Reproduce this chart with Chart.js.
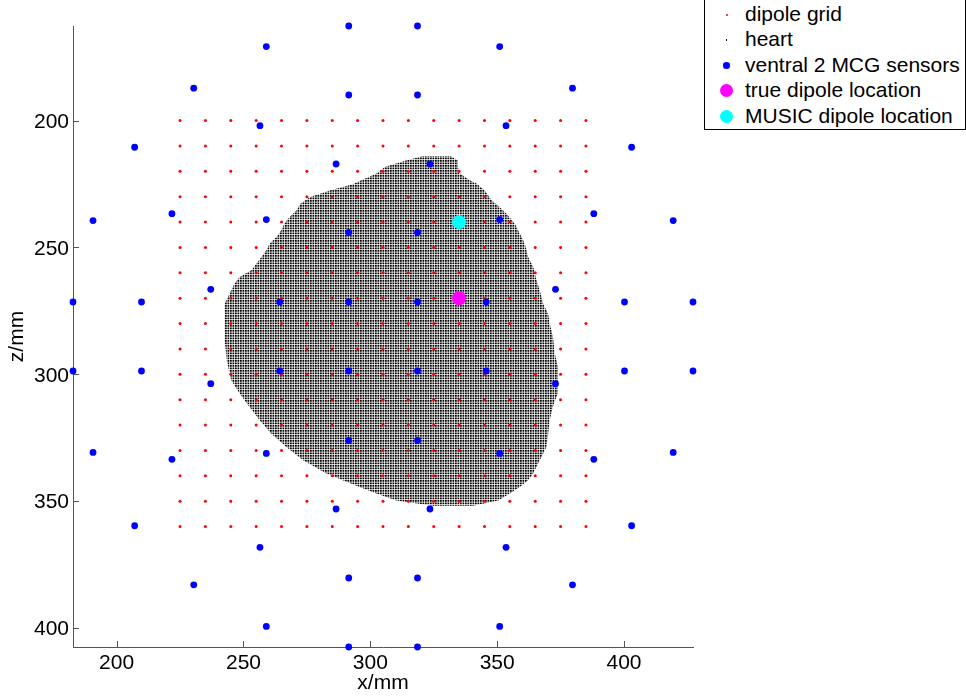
<!DOCTYPE html>
<html>
<head>
<meta charset="utf-8">
<title>dipole localisation</title>
<script src="https://cdn.jsdelivr.net/npm/chart.js"></script>
<style>
  body { margin: 0; background: #fff; }
  #wrap { position: relative; width: 966px; height: 697px; overflow: hidden; }
  #legend { position: absolute; left: 704px; top: -1px; width: 260px; height: 129px;
            border: 1px solid #000; background: #fff;
            font: 21px "Liberation Sans", Arial, Helvetica, sans-serif; color: #000; }
  #legend .row { position: absolute; left: 40px; height: 25.6px; line-height: 25.6px; white-space: nowrap; }
  #legend .mark { position: absolute; }
</style>
</head>
<body>
<div id="wrap">
  <canvas id="plot" width="966" height="697"></canvas>
  <div id="legend"></div>
</div>
<script>
// axis limits (mm) and tick positions
const xRange = [182.8, 427.2];
const zRange = [162.7, 407.5];
const xTicks = [200, 250, 300, 350, 400];
const zTicks = [200, 250, 300, 350, 400];

// dipole source grid, 10 mm spacing
const gridX = [225, 235, 245, 255, 265, 275, 285, 295, 305, 315, 325, 335, 345, 355, 365, 375, 385];
const gridZ = [200, 210, 220, 230, 240, 250, 260, 270, 280, 290, 300, 310, 320, 330, 340, 350, 360];

// ventral MCG sensor positions
const sensorX = [291.5, 318.6, 259.0, 351.0, 230.4, 379.7, 291.5, 318.6, 256.5, 353.5, 207.1, 403.0,
  286.5, 323.5, 221.8, 388.1, 259.0, 351.0, 190.7, 419.4, 291.5, 318.6, 237.1, 373.0,
  182.8, 209.8, 264.3, 291.5, 318.6, 345.7, 400.2, 427.2,
  182.8, 209.8, 264.3, 291.5, 318.6, 345.7, 400.2, 427.2,
  237.1, 373.0, 291.5, 318.6, 190.7, 419.4, 259.0, 351.0, 221.8, 388.1, 286.5, 323.5,
  207.1, 403.0, 256.5, 353.5, 291.5, 318.6, 230.4, 379.7, 259.0, 351.0, 291.5, 318.6];
const sensorZ = [162.7, 162.7, 170.8, 170.8, 187.2, 187.2, 189.9, 189.9, 202.0, 202.0, 210.5, 210.5,
  217.1, 217.1, 236.7, 236.7, 239.0, 239.0, 239.4, 239.4, 244.1, 244.1, 266.5, 266.5,
  271.5, 271.5, 271.5, 271.5, 271.5, 271.5, 271.5, 271.5,
  298.7, 298.7, 298.7, 298.7, 298.7, 298.7, 298.7, 298.7,
  303.7, 303.7, 326.1, 326.1, 330.8, 330.8, 331.2, 331.2, 333.5, 333.5, 353.1, 353.1,
  359.7, 359.7, 368.2, 368.2, 380.3, 380.3, 383.0, 383.0, 399.4, 399.4, 407.5, 407.5];

// heart slice outline
const heartX = [320.5, 314.4, 305.7, 302.4, 296.5, 293.1, 284.0, 276.1, 272.2, 270.9, 268.2, 266.2,
  264.9, 263.0, 260.3, 259.0, 257.1, 255.1, 253.1, 248.5, 246.5, 245.2, 243.9, 242.6,
  242.6, 242.6, 243.4, 245.2, 248.5, 252.4, 256.4, 261.0, 266.9, 273.5, 282.7, 289.2,
  295.8, 302.4, 310.3, 324.7, 340.5, 350.4, 355.0, 358.9, 362.2, 364.2, 366.8, 369.4,
  370.1, 370.7, 371.9, 373.9, 374.0, 374.0, 372.7, 372.0, 370.7, 370.1, 368.1, 366.8,
  365.5, 364.2, 362.2, 360.9, 358.9, 356.9, 353.7, 351.0, 347.8, 345.1, 341.8, 339.2,
  335.3, 334.5, 334.5, 331.7, 320.5];
const heartZ = [214.0, 215.6, 218.3, 220.8, 223.5, 225.1, 227.5, 230.2, 233.0, 235.4, 238.0, 240.6,
  243.2, 245.9, 248.5, 251.1, 253.8, 256.4, 259.0, 261.6, 264.2, 266.9, 269.5, 272.1,
  277.4, 286.6, 294.5, 302.4, 307.6, 312.9, 318.1, 323.4, 328.7, 333.9, 339.1, 341.8,
  344.4, 347.0, 349.7, 351.8, 351.8, 349.7, 347.0, 344.4, 341.8, 339.1, 333.9, 328.7,
  323.4, 318.1, 312.9, 307.6, 302.4, 297.1, 291.8, 285.3, 280.0, 276.1, 272.1, 266.9,
  262.9, 257.7, 253.8, 248.5, 244.5, 240.6, 236.7, 234.1, 231.4, 227.5, 224.8, 223.5,
  220.8, 218.3, 215.6, 214.0, 214.0];

// dipole estimates
const trueDipole = [335, 270];
const musicDipole = [335, 240];

const FONT = '"Liberation Sans", Arial, Helvetica, sans-serif';
const AXIS = '#555';

const canvas = document.getElementById('plot');
const ctx = canvas.getContext('2d');

// fine dot texture for the heart voxels (about 1 mm pitch)
function heartPattern() {
  const tile = document.createElement('canvas');
  tile.width = 5; tile.height = 5;
  const g = tile.getContext('2d');
  g.fillStyle = '#000';
  [[0, 0], [2.5, 0], [0, 2.5], [2.5, 2.5]].forEach(([x, y]) => g.fillRect(x, y, 1.75, 1.75));
  return ctx.createPattern(tile, 'repeat');
}

const gridPts = [];
gridZ.forEach(z => gridX.forEach(x => gridPts.push({ x, y: z })));
const sensorPts = sensorX.map((x, i) => ({ x, y: sensorZ[i] }));
const heartPts = heartX.map((x, i) => ({ x, y: heartZ[i] }));

function dots(label, data, color, radius, style, order, legendSize) {
  return {
    label, data, order, legendSize,
    backgroundColor: color, borderColor: color, borderWidth: 0,
    pointRadius: radius, pointHoverRadius: radius, pointStyle: style,
    clip: false
  };
}

const datasets = [
  dots('dipole grid', gridPts, '#ff0000', 1.5, 'circle', 3, 2.2),
  {
    type: 'line', label: 'heart', data: heartPts, order: 4,
    fill: 'shape', backgroundColor: heartPattern(), borderColor: 'rgba(0,0,0,0)',
    pointRadius: 0, tension: 0, legendColor: '#000', legendSize: 1.5
  },
  dots('ventral 2 MCG sensors', sensorPts, '#0000ff', 3.4, 'circle', 2, 6.6),
  dots('true dipole location', [{ x: trueDipole[0], y: trueDipole[1] }], '#ff00ff', 7, 'circle', 1, 13),
  dots('MUSIC dipole location', [{ x: musicDipole[0], y: musicDipole[1] }], '#00ffff', 7, 'circle', 0, 13)
];

// MATLAB-style ticks pointing into the plot box
const inwardTicks = {
  id: 'inwardTicks',
  beforeDatasetsDraw(chart) {
    const { ctx, chartArea, scales } = chart;
    ctx.save();
    ctx.strokeStyle = AXIS;
    ctx.lineWidth = 1;
    ctx.beginPath();
    scales.x.ticks.forEach(t => {
      const px = Math.round(scales.x.getPixelForValue(t.value)) + 0.5;
      ctx.moveTo(px, chartArea.bottom);
      ctx.lineTo(px, chartArea.bottom - 6);
    });
    scales.y.ticks.forEach(t => {
      const py = Math.round(scales.y.getPixelForValue(t.value)) + 0.5;
      ctx.moveTo(chartArea.left, py);
      ctx.lineTo(chartArea.left + 6, py);
    });
    ctx.stroke();
    ctx.restore();
  }
};

const chart = new Chart(ctx, {
  type: 'scatter',
  data: { datasets },
  plugins: [inwardTicks],
  options: {
    responsive: false,
    animation: false,
    events: [],
    layout: { padding: { top: 26, right: 273, left: 0, bottom: 0 } },
    plugins: { legend: { display: false }, tooltip: { enabled: false } },
    scales: {
      x: {
        type: 'linear', min: xRange[0], max: xRange[1],
        afterBuildTicks: s => { s.ticks = xTicks.map(v => ({ value: v })); },
        afterFit: s => { s.height = 50; },
        grid: { display: false, drawTicks: false },
        border: { color: AXIS, width: 1 },
        ticks: { color: '#000', padding: 4, font: { family: FONT, size: 21 } },
        title: { display: true, text: 'x/mm', color: '#000', padding: { top: 0, bottom: 1 }, font: { family: FONT, size: 21 } }
      },
      y: {
        type: 'linear', reverse: true, min: zRange[0], max: zRange[1],
        afterBuildTicks: s => { s.ticks = zTicks.map(v => ({ value: v })); },
        afterFit: s => { s.width = 73; },
        grid: { display: false, drawTicks: false },
        border: { color: AXIS, width: 1 },
        ticks: { color: '#000', padding: 4, labelOffset: 1.5, font: { family: FONT, size: 21 } },
        title: { display: true, text: 'z/mm', color: '#000', padding: { top: 5, bottom: 0 }, font: { family: FONT, size: 21 } }
      }
    }
  }
});

// legend box, built from the datasets
const legend = document.getElementById('legend');
chart.data.datasets.forEach((ds, i) => {
  const size = ds.legendSize;
  const mark = document.createElement('span');
  mark.className = 'mark';
  mark.style.width = size + 'px';
  mark.style.height = size + 'px';
  mark.style.left = (21.7 - size / 2) + 'px';
  mark.style.top = (14.7 + 25.4 * i - size / 2) + 'px';
  mark.style.background = ds.legendColor || ds.backgroundColor;
  mark.style.borderRadius = ds.pointStyle === 'circle' ? '50%' : '0';
  legend.appendChild(mark);
  const row = document.createElement('div');
  row.className = 'row';
  row.style.top = (0.6 + 25.6 * i) + 'px';
  row.textContent = ds.label;
  legend.appendChild(row);
});
</script>
</body>
</html>
